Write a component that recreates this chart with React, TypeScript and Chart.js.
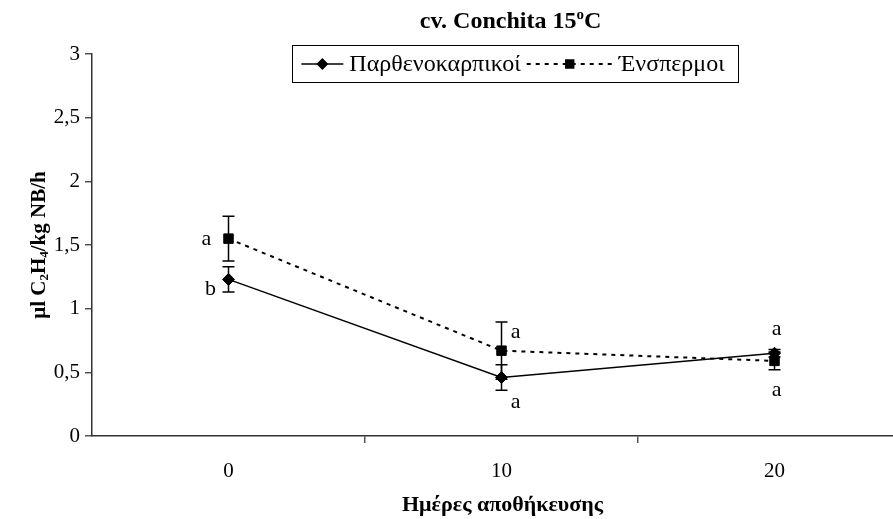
import React, { useEffect, useRef } from "react";
import { Chart, registerables } from "chart.js";

Chart.register(...registerables);

// Storage days and ethylene production (μl C2H4 / kg / h) for the two fruit types
const storageDays = [0, 10, 20];
const dayBoundaries = [5, 15];
const parthenocarpicMeans = [1.23, 0.46, 0.65];
const parthenocarpicSE = [0.1, 0.1, 0.03];
const parthenocarpicLetters = ["b", "a", "a"];
const seededMeans = [1.55, 0.67, 0.59];
const seededSE = [0.175, 0.225, 0.07];
const seededLetters = ["a", "a", "a"];
const yTickValues = [0, 0.5, 1, 1.5, 2, 2.5, 3];
const seriesLabels = ["Παρθενοκαρπικοί", "Ένσπερμοι"];
const titleParts = ["cv. Conchita 15", "o", "C"];
const xAxisTitle = "Ημέρες αποθήκευσης";
const yAxisTitleParts: [string, boolean][] = [
  ["μl C", false],
  ["2", true],
  ["H", false],
  ["4", true],
  ["/kg NB/h", false],
];

const SERIF = "'Liberation Serif', 'Times New Roman', Times, serif";

function drawMarker(ctx: CanvasRenderingContext2D, style: string, x: number, y: number, r: number) {
  ctx.beginPath();
  if (style === "rectRot") {
    ctx.moveTo(x, y - r);
    ctx.lineTo(x + r, y);
    ctx.lineTo(x, y + r);
    ctx.lineTo(x - r, y);
    ctx.closePath();
  } else {
    const h = r * Math.SQRT1_2;
    ctx.rect(x - h, y - h, 2 * h, 2 * h);
  }
  ctx.fill();
}

// Vertical standard-error bars with caps, drawn under the markers
const errorBarPlugin = {
  id: "errorBars",
  beforeDatasetsDraw(chart: any) {
    const { ctx } = chart;
    const yScale = chart.scales.y;
    chart.data.datasets.forEach((ds: any, i: number) => {
      if (!ds.errors) return;
      const meta = chart.getDatasetMeta(i);
      meta.data.forEach((pt: any, j: number) => {
        const v = ds.data[j].y;
        const e = ds.errors[j];
        const top = yScale.getPixelForValue(v + e);
        const bot = yScale.getPixelForValue(v - e);
        ctx.save();
        ctx.strokeStyle = "#000";
        ctx.lineWidth = 1.5;
        ctx.beginPath();
        ctx.moveTo(pt.x, top);
        ctx.lineTo(pt.x, bot);
        ctx.moveTo(pt.x - 6, top);
        ctx.lineTo(pt.x + 6, top);
        ctx.moveTo(pt.x - 6, bot);
        ctx.lineTo(pt.x + 6, bot);
        ctx.stroke();
        ctx.restore();
      });
    });
  },
};

// Significance letters next to each mean
const letterPlugin = {
  id: "sigLetters",
  afterDatasetsDraw(chart: any) {
    const { ctx } = chart;
    chart.data.datasets.forEach((ds: any, i: number) => {
      if (!ds.letters) return;
      const meta = chart.getDatasetMeta(i);
      meta.data.forEach((pt: any, j: number) => {
        const [dx, dy] = ds.letterOffsets[j];
        ctx.save();
        ctx.fillStyle = "#000";
        ctx.font = `22px ${SERIF}`;
        ctx.textAlign = "center";
        ctx.textBaseline = "middle";
        ctx.fillText(ds.letters[j], pt.x + dx, pt.y + dy);
        ctx.restore();
      });
    });
  },
};

// Chart title, axis titles and the boxed legend
const decorPlugin = {
  id: "decor",
  afterDraw(chart: any) {
    const { ctx, chartArea } = chart;
    const cx = (chartArea.left + chartArea.right) / 2;
    ctx.save();
    ctx.fillStyle = "#000";
    ctx.textBaseline = "alphabetic";
    ctx.textAlign = "left";

    // Title with superscript "o"
    const big = `bold 24px ${SERIF}`;
    const small = `bold 15px ${SERIF}`;
    ctx.font = big;
    const w0 = ctx.measureText(titleParts[0]).width;
    const w2 = ctx.measureText(titleParts[2]).width;
    ctx.font = small;
    const w1 = ctx.measureText(titleParts[1]).width;
    let tx = cx + 18 - (w0 + w1 + w2) / 2;
    const tBase = 28;
    ctx.font = big;
    ctx.fillText(titleParts[0], tx, tBase);
    tx += w0;
    ctx.font = small;
    ctx.fillText(titleParts[1], tx, tBase - 9);
    tx += w1;
    ctx.font = big;
    ctx.fillText(titleParts[2], tx, tBase);

    // X axis title
    ctx.font = `bold 22px ${SERIF}`;
    ctx.textAlign = "center";
    ctx.textBaseline = "middle";
    ctx.fillText(xAxisTitle, cx + 10, 505);

    // Y axis title, rotated, with subscript digits
    ctx.save();
    ctx.translate(38, (chartArea.top + chartArea.bottom) / 2);
    ctx.rotate(-Math.PI / 2);
    ctx.textAlign = "left";
    ctx.textBaseline = "alphabetic";
    const bigY = `bold 21px ${SERIF}`;
    const subY = `bold 13px ${SERIF}`;
    let total = 0;
    yAxisTitleParts.forEach(([t, sub]) => {
      ctx.font = sub ? subY : bigY;
      total += ctx.measureText(t).width;
    });
    let yx = -total / 2;
    yAxisTitleParts.forEach(([t, sub]) => {
      ctx.font = sub ? subY : bigY;
      ctx.fillText(t, yx, sub ? 10 : 7);
      yx += ctx.measureText(t).width;
    });
    ctx.restore();

    // Legend box
    const textGap = 6;
    const itemGap = 6;
    const padL = 9;
    const padR = 14;
    const legendFont = `24px ${SERIF}`;
    ctx.font = legendFont;
    const items = chart.data.datasets.map((ds: any) => ({
      ds,
      w: ctx.measureText(ds.label).width,
      sample: ds.legendSample || 40,
    }));
    let width = padL + padR + itemGap * (items.length - 1);
    items.forEach((it: any) => (width += it.sample + textGap + it.w));
    const boxTop = 45;
    const boxH = 37;
    let lx = cx + 23 - width / 2;
    ctx.strokeStyle = "#000";
    ctx.lineWidth = 1;
    ctx.setLineDash([]);
    ctx.strokeRect(Math.round(lx) + 0.5, boxTop + 0.5, Math.round(width), boxH);
    const midY = boxTop + boxH / 2 + 0.5;
    lx += padL;
    items.forEach((it: any) => {
      const ds = it.ds;
      ctx.save();
      ctx.strokeStyle = ds.borderColor;
      ctx.lineWidth = ds.borderWidth;
      ctx.setLineDash(ds.borderDash || []);
      ctx.beginPath();
      ctx.moveTo(lx, midY);
      ctx.lineTo(lx + it.sample, midY);
      ctx.stroke();
      ctx.setLineDash([]);
      ctx.fillStyle = ds.pointBackgroundColor;
      drawMarker(ctx, ds.pointStyle, lx + it.sample / 2, midY, ds.pointRadius);
      ctx.restore();
      ctx.fillStyle = "#000";
      ctx.textAlign = "left";
      ctx.textBaseline = "middle";
      ctx.font = legendFont;
      ctx.fillText(ds.label, lx + it.sample + textGap, midY + 1);
      lx += it.sample + textGap + it.w + itemGap;
    });
    ctx.restore();
  },
};

const toPoints = (values: number[]) => values.map((v, i) => ({ x: storageDays[i], y: v }));

export default function App() {
  const canvasRef = useRef<HTMLCanvasElement | null>(null);

  useEffect(() => {
    document.body.style.margin = "0";
    const canvas = canvasRef.current;
    if (!canvas) return;
    const tickFont = { family: SERIF, size: 21 };

    const chart = new Chart(canvas, {
      type: "line",
      data: {
        datasets: [
          {
            label: seriesLabels[0],
            data: toPoints(parthenocarpicMeans),
            borderColor: "#000",
            backgroundColor: "#000",
            borderWidth: 1.5,
            pointStyle: "rectRot",
            pointRadius: 6,
            pointBackgroundColor: "#000",
            pointBorderColor: "#000",
            pointBorderWidth: 1,
            tension: 0,
            legendSample: 42,
            errors: parthenocarpicSE,
            letters: parthenocarpicLetters,
            letterOffsets: [
              [-18, 10],
              [14, 25],
              [2, -24],
            ],
          } as any,
          {
            label: seriesLabels[1],
            data: toPoints(seededMeans),
            borderColor: "#000",
            backgroundColor: "#000",
            borderWidth: 2,
            borderDash: [4, 5],
            pointStyle: "rect",
            pointRadius: 6.7,
            pointBackgroundColor: "#000",
            pointBorderColor: "#000",
            pointBorderWidth: 1,
            tension: 0,
            legendSample: 86,
            errors: seededSE,
            letters: seededLetters,
            letterOffsets: [
              [-22, 1],
              [14, -18],
              [2, 29],
            ],
          } as any,
        ],
      },
      options: {
        responsive: false,
        animation: false,
        devicePixelRatio: 1,
        layout: { autoPadding: false, padding: { top: 54, right: 0, left: 0, bottom: 0 } },
        plugins: {
          legend: { display: false },
          title: { display: false },
          tooltip: { enabled: false },
        },
        scales: {
          x: {
            type: "linear",
            min: -5,
            max: 24.34,
            afterBuildTicks: (scale: any) => {
              scale.ticks = [-5, ...storageDays, ...dayBoundaries]
                .sort((a, b) => a - b)
                .map((v) => ({ value: v }));
            },
            afterFit: (scale: any) => {
              scale.height = 83;
              scale.paddingLeft = 0;
              scale.paddingRight = 0;
            },
            grid: {
              drawOnChartArea: false,
              drawTicks: true,
              tickLength: 7,
              lineWidth: 1.5,
              color: (c: any) =>
                c.tick && dayBoundaries.includes(c.tick.value) ? "#555" : "rgba(0,0,0,0)",
            },
            border: { display: true, color: "#333", width: 1.5 },
            ticks: {
              autoSkip: false,
              maxRotation: 0,
              padding: 16,
              color: "#000",
              font: tickFont,
              callback: (v: any) => (storageDays.includes(v) ? String(v) : ""),
            },
          },
          y: {
            min: 0,
            max: 3,
            afterBuildTicks: (scale: any) => {
              scale.ticks = yTickValues.map((v) => ({ value: v }));
            },
            afterFit: (scale: any) => {
              scale.width = 92;
            },
            grid: {
              drawOnChartArea: false,
              drawTicks: true,
              tickLength: 7,
              lineWidth: 1.5,
              color: "#555",
            },
            border: { display: true, color: "#333", width: 1.5 },
            ticks: {
              padding: 5,
              color: "#000",
              font: tickFont,
              callback: (v: any) => String(v).replace(".", ","),
            },
          },
        },
      },
      plugins: [errorBarPlugin, letterPlugin, decorPlugin],
    });

    return () => chart.destroy();
  }, []);

  return (
    <div style={{ width: 893, height: 519 }}>
      <canvas ref={canvasRef} width={893} height={519} style={{ display: "block" }} />
    </div>
  );
}
